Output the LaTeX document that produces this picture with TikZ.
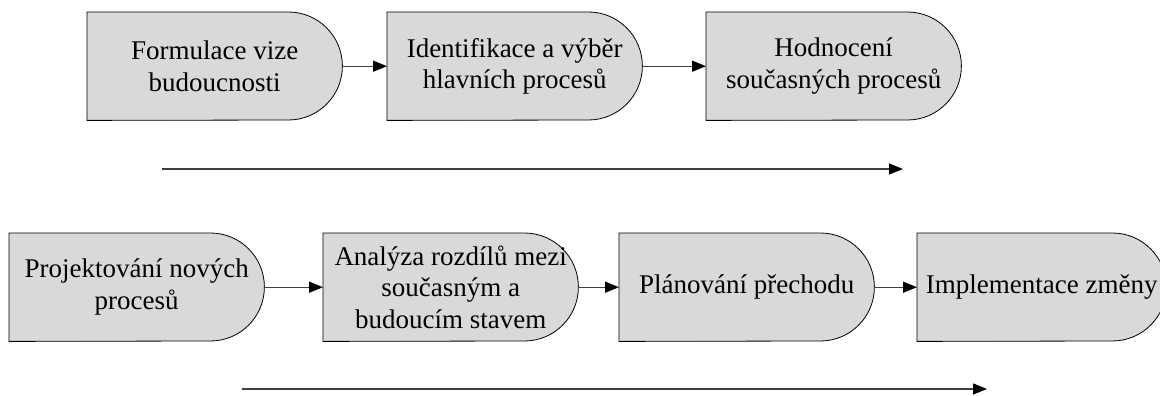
\documentclass[tikz,border=0pt]{standalone}
\usepackage{fontspec}
\setmainfont{Liberation Serif}
\usetikzlibrary{arrows.meta,backgrounds}

\definecolor{stagegray}{HTML}{D9D9D9}
\definecolor{linkgray}{HTML}{404040}
\newcommand\stagefont{\fontsize{27}{31.5}\selectfont}

\tikzset{
  stage/.style={minimum width=255pt, minimum height=108pt, inner sep=0pt,
    anchor=north west, align=center, font=\stagefont},
  stageshape/.style={draw=black, fill=stagegray, line width=0.8pt},
  link/.style={draw=linkgray, line width=1.3pt,
    -{Triangle[length=14pt,width=11pt,black]}}
}

% a process step: flat left side, semicircular right side
\newcommand\stagebox[5][]{%
  \node[stage,#1] (#2) at (#3,#4) {#5};
  \begin{pgfonlayer}{background}
    \path[stageshape] (#2.south west) -- (#2.north west)
      -- ([xshift=-54pt]#2.north east)
      arc[start angle=90, end angle=-90, radius=54pt] -- cycle;
  \end{pgfonlayer}
}

\begin{document}
\begin{tikzpicture}[x=1pt, y=-1pt]
  \useasboundingbox (0,0) rectangle (1160,396);

  % first row
  \stagebox{s1}{87}{12}{Formulace vize\\budoucnosti}
  \stagebox{s2}{387}{12}{Identifikace a výběr\\hlavních procesů}
  \stagebox{s3}{706}{12}{Hodnocení\\současných procesů}

  % second row
  \stagebox{s4}{9}{233}{Projektování nových\\procesů}
  \stagebox{s5}{323}{233}{Analýza rozdílů mezi\\současným a\\budoucím stavem}
  \stagebox{s6}{619}{233}{Plánování přechodu}
  \stagebox[minimum width=249pt]{s7}{917}{233}{Implementace změny}

  \draw[link] (s1.east) -- (s2.west);
  \draw[link] (s2.east) -- (s3.west);
  \draw[link] (s4.east) -- (s5.west);
  \draw[link] (s5.east) -- (s6.west);
  \draw[link] (s6.east) -- (s7.west);

  % direction arrows below each row
  \coordinate (t0) at (162,169);
  \coordinate (t1) at (903,169);
  \coordinate (b0) at (242,389);
  \coordinate (b1) at (987,389);
  \draw[link] (t0) -- (t1);
  \draw[link] (b0) -- (b1);
\end{tikzpicture}
\end{document}
